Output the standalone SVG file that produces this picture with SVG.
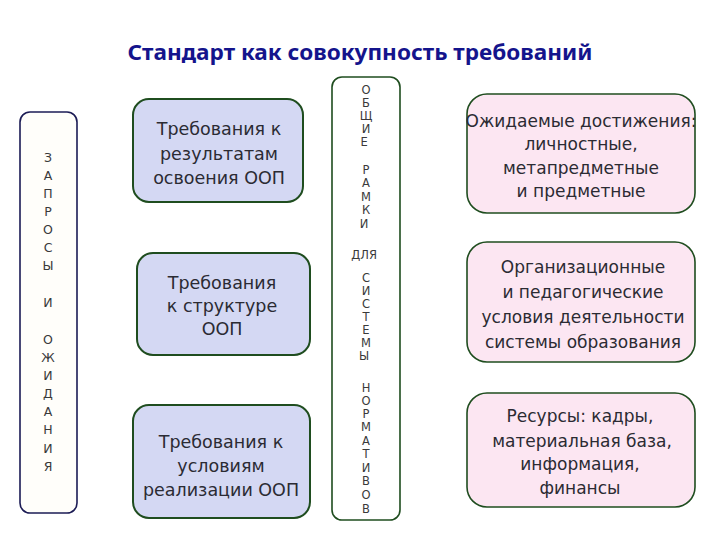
<svg xmlns="http://www.w3.org/2000/svg" width="720" height="540" viewBox="0 0 720 540">
<style>
.t{font-family:"DejaVu Sans","Noto Sans",sans-serif;font-size:17px;fill:#2b2b33;text-anchor:middle;dominant-baseline:central}
.tl{font-size:17.5px}
.v{font-family:"DejaVu Sans","Noto Sans",sans-serif;font-size:11.5px;fill:#3a3a3a;text-anchor:middle;dominant-baseline:central}
.vl{font-size:12.5px}
.blue{fill:#d4d8f3;stroke:#1f4d1f;stroke-width:2}
.pink{fill:#fce6f2;stroke:#1f4d1f;stroke-width:1.6}
.title{font-family:"Noto Sans","Open Sans",sans-serif;font-weight:bold;font-size:22px;fill:#14148c;text-anchor:middle}
</style>
<rect width="720" height="540" fill="#ffffff"/>
<text class="title" x="360" y="60" textLength="465" lengthAdjust="spacingAndGlyphs">Стандарт как совокупность требований</text>

<g id="zaprosy">
<rect x="20" y="112" width="57" height="401" rx="10" fill="#fffefa" stroke="#1c1c55" stroke-width="1.6"/>
<text class="v vl">
<tspan x="48" y="157">З</tspan><tspan x="48" y="175">А</tspan><tspan x="48" y="193">П</tspan><tspan x="48" y="211">Р</tspan><tspan x="48" y="229">О</tspan><tspan x="48" y="247">С</tspan><tspan x="48" y="265">Ы</tspan><tspan x="48" y="302">И</tspan><tspan x="48" y="339">О</tspan><tspan x="48" y="357">Ж</tspan><tspan x="48" y="375">И</tspan><tspan x="48" y="393">Д</tspan><tspan x="48" y="411">А</tspan><tspan x="48" y="429">Н</tspan><tspan x="48" y="448">И</tspan><tspan x="48" y="466">Я</tspan>
</text>
</g>

<g id="req-results">
<rect class="blue" x="133" y="99" width="170" height="103" rx="16"/>
<text class="t tl"><tspan x="219" y="129">Требования к</tspan><tspan x="219" y="154">результатам</tspan><tspan x="219" y="178">освоения ООП</tspan></text>
</g>
<g id="req-structure">
<rect class="blue" x="137" y="253" width="173" height="102" rx="16"/>
<text class="t tl"><tspan x="222" y="283">Требования</tspan><tspan x="222" y="306">к структуре</tspan><tspan x="222" y="329">ООП</tspan></text>
</g>
<g id="req-conditions">
<rect class="blue" x="133" y="405" width="177" height="113" rx="16"/>
<text class="t tl"><tspan x="221" y="442">Требования к</tspan><tspan x="221" y="466">условиям</tspan><tspan x="221" y="490">реализации ООП</tspan></text>
</g>

<g id="ramki">
<rect x="332" y="77" width="68" height="443" rx="10" fill="#ffffff" stroke="#1f4d1f" stroke-width="1.6"/>
<text class="v">
<tspan x="366" y="90">О</tspan><tspan x="366" y="103">Б</tspan><tspan x="366" y="116">Щ</tspan><tspan x="366" y="129">И</tspan><tspan x="366" y="142">Е</tspan>
<tspan x="366" y="170">Р</tspan><tspan x="366" y="183">А</tspan><tspan x="366" y="197">М</tspan><tspan x="366" y="210">К</tspan><tspan x="366" y="224">И</tspan>
<tspan x="366" y="255">ДЛЯ</tspan>
<tspan x="366" y="278">С</tspan><tspan x="366" y="291">И</tspan><tspan x="366" y="304">С</tspan><tspan x="366" y="317">Т</tspan><tspan x="366" y="330">Е</tspan><tspan x="366" y="343">М</tspan><tspan x="366" y="356">Ы</tspan>
<tspan x="366" y="388">Н</tspan><tspan x="366" y="401">О</tspan><tspan x="366" y="414">Р</tspan><tspan x="366" y="427">М</tspan><tspan x="366" y="441">А</tspan><tspan x="366" y="454">Т</tspan><tspan x="366" y="468">И</tspan><tspan x="366" y="481">В</tspan><tspan x="366" y="495">О</tspan><tspan x="366" y="509">В</tspan>
</text>
</g>

<g id="achievements">
<rect class="pink" x="467" y="94" width="228" height="119" rx="20"/>
<text class="t"><tspan x="581" y="121">Ожидаемые достижения:</tspan><tspan x="581" y="144">личностные,</tspan><tspan x="581" y="168">метапредметные</tspan><tspan x="581" y="191">и предметные</tspan></text>
</g>
<g id="org-conditions">
<rect class="pink" x="467" y="242" width="228" height="120" rx="20"/>
<text class="t"><tspan x="583" y="267">Организационные</tspan><tspan x="583" y="292">и педагогические</tspan><tspan x="583" y="317">условия деятельности</tspan><tspan x="583" y="342">системы образования</tspan></text>
</g>
<g id="resources">
<rect class="pink" x="467" y="393" width="228" height="114" rx="20"/>
<text class="t"><tspan x="580" y="416">Ресурсы: кадры,</tspan><tspan x="582" y="441">материальная база,</tspan><tspan x="580" y="464">информация,</tspan><tspan x="580" y="488">финансы</tspan></text>
</g>
<g id="connectors"></g>
</svg>
